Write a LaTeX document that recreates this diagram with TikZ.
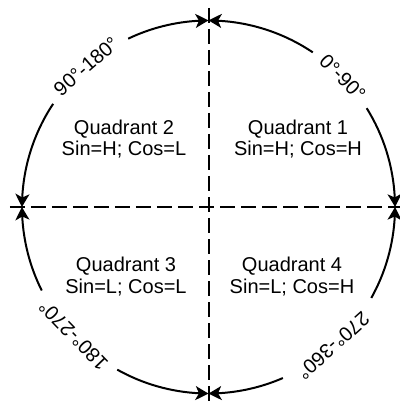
\documentclass[tikz,border=0pt]{standalone}
\usepackage{fontspec}
\setmainfont{Liberation Sans}
\usetikzlibrary{arrows.meta,bending}

\begin{document}
\begin{tikzpicture}[x=1pt, y=1pt,
    quadtext/.style={align=center, font=\fontsize{20}{21.5}\selectfont},
    rangetext/.style={font=\fontsize{20}{22}\selectfont, inner sep=0pt},
    axisline/.style={line width=2pt, dash pattern=on 15pt off 6pt},
    arcline/.style={line width=2pt, -{Stealth[length=13pt, width=14pt, inset=3.5pt, bend]}}
  ]
  \useasboundingbox (-208.5,-197) rectangle (190.5,207);
  \def\R{186.5}
  % axes
  \coordinate (ytop)   at (0,199);
  \coordinate (ybot)   at (0,-199);
  \coordinate (xleft)  at (-198.5,0);
  \coordinate (xright) at (198.5,0);
  \draw[axisline] (ytop) -- (ybot);
  \draw[axisline] (xleft) -- (xright);
  % circle pieces, arrow tips meet on the axes
  \foreach \a/\b in {0/32, 90/56, 90/115.5, 180/146.4, 180/206.6, 270/240.7, 270/293.5, 360/330.8}
    \draw[arcline] (\b:\R) arc[start angle=\b, end angle=\a, radius=\R];
  % ranges
  \node[rangetext, rotate=-46] (r1) at (44:\R)    {0°-90°};
  \node[rangetext, rotate=41]  (r2) at (131:\R)   {90°-180°};
  \node[rangetext, rotate=134] (r3) at (223.6:\R) {180°-270°};
  \node[rangetext, rotate=222] (r4) at (312:\R)   {270°-360°};
  % quadrants
  \node[quadtext] (q1) at (89.5,68)    {Quadrant 1\\Sin=H; Cos=H};
  \node[quadtext] (q2) at (-84.5,68)   {Quadrant 2\\Sin=H; Cos=L};
  \node[quadtext] (q3) at (-82.5,-69.5) {Quadrant 3\\Sin=L; Cos=L};
  \node[quadtext] (q4) at (83.5,-69.5) {Quadrant 4\\Sin=L; Cos=H};
\end{tikzpicture}
\end{document}
